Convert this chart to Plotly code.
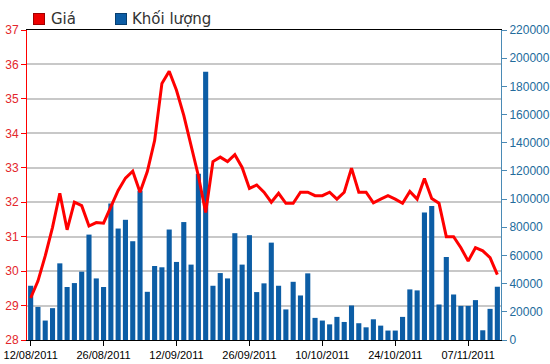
import plotly.graph_objects as go

dates = [
    "12/08/2011", "15/08/2011", "16/08/2011", "17/08/2011", "18/08/2011", "19/08/2011",
    "22/08/2011", "23/08/2011", "24/08/2011", "25/08/2011", "26/08/2011",
    "29/08/2011", "30/08/2011", "31/08/2011", "01/09/2011",
    "05/09/2011", "06/09/2011", "07/09/2011", "08/09/2011", "09/09/2011", "12/09/2011",
    "13/09/2011", "14/09/2011", "15/09/2011", "16/09/2011",
    "19/09/2011", "20/09/2011", "21/09/2011", "22/09/2011", "23/09/2011", "26/09/2011",
    "27/09/2011", "28/09/2011", "29/09/2011", "30/09/2011",
    "03/10/2011", "04/10/2011", "05/10/2011", "06/10/2011", "07/10/2011", "10/10/2011",
    "11/10/2011", "12/10/2011", "13/10/2011", "14/10/2011",
    "17/10/2011", "18/10/2011", "19/10/2011", "20/10/2011", "21/10/2011", "24/10/2011",
    "25/10/2011", "26/10/2011", "27/10/2011", "28/10/2011", "31/10/2011",
    "01/11/2011", "02/11/2011", "03/11/2011", "04/11/2011", "07/11/2011",
    "08/11/2011", "09/11/2011", "10/11/2011", "11/11/2011",
]

price = [
    29.22, 29.71, 30.44, 31.27, 32.26, 31.2, 32.0, 31.9, 31.31, 31.41,
    31.39, 31.85, 32.34, 32.7, 32.9, 32.29, 32.89, 33.79, 35.45, 35.8,
    35.25, 34.52, 33.65, 32.77, 31.7, 33.18, 33.31, 33.18, 33.38, 33.01,
    32.4, 32.5, 32.29, 32.0, 32.26, 31.97, 31.97, 32.29, 32.29, 32.19,
    32.19, 32.29, 32.09, 32.29, 32.99, 32.29, 32.29, 31.98, 32.09, 32.19,
    32.09, 31.97, 32.31, 32.09, 32.69, 32.11, 31.97, 31.0, 31.0, 30.68,
    30.29, 30.68, 30.59, 30.39, 29.9,
]

volume = [
    38500, 23500, 13800, 22600, 54400, 37600, 40400, 48500, 74800, 43700,
    37600, 96900, 79100, 85300, 70100, 106000, 34200, 52500, 51600, 78400,
    55400, 83700, 53500, 117900, 190300, 38500, 47500, 43700, 75800, 53500,
    74400, 34000, 40200, 69100, 38500, 21700, 41300, 31600, 47300, 15700,
    13800, 11100, 16400, 12800, 24500, 11900, 9000, 14700, 10200, 6700,
    6700, 16400, 35900, 35200, 90500, 95100, 25200, 58900, 32300, 24200,
    24200, 28300, 6900, 22100, 37800,
]

tick_dates = ["12/08/2011", "26/08/2011", "12/09/2011", "26/09/2011",
              "10/10/2011", "24/10/2011", "07/11/2011"]

price_ticks = [28, 29, 30, 31, 32, 33, 34, 35, 36, 37]
volume_ticks = [0, 20000, 40000, 60000, 80000, 100000, 120000, 140000,
                160000, 180000, 200000, 220000]

legend_names = ["Giá", "Khối lượng"]
legend_colors = ["#ee0000", "#0c5da5"]
legend_borders = ["#a00000", "#083f70"]

RED = "#ff0000"
RED_TXT = "#e3262b"
BLUE = "#0c5da5"
BLUE_TXT = "#236b9c"
BLUE_AXIS = "#4a8ab5"

fig = go.Figure()

fig.add_trace(go.Bar(
    x=dates, y=volume, yaxis="y", name=legend_names[1],
    marker=dict(color=BLUE, line=dict(width=0)),
    showlegend=False,
))

fig.add_trace(go.Scatter(
    x=dates, y=price, yaxis="y2", mode="lines", name=legend_names[0],
    line=dict(color=RED, width=3), showlegend=False,
))

# legend drawn above the plot: swatch + label for each series
swatch_x = [0.0253, 0.1983]
label_x = [0.0465, 0.2175]
legend_y = 1.034
annotations = []
for name, col, bcol, sx, lx in zip(legend_names, legend_colors, legend_borders, swatch_x, label_x):
    annotations.append(dict(
        xref="paper", yref="paper", x=sx, y=legend_y, xanchor="center", yanchor="middle",
        text=" ", showarrow=False, width=10, height=10, bgcolor=col,
        bordercolor=bcol, borderwidth=1, borderpad=0, font=dict(size=6),
    ))
    annotations.append(dict(
        xref="paper", yref="paper", x=lx, y=legend_y, xanchor="left", yanchor="middle",
        text=name, showarrow=False,
        font=dict(family="DejaVu Sans, Verdana, sans-serif", size=15, color="#333333"),
    ))

fig.update_layout(
    width=550, height=364,
    margin=dict(l=27, r=49, t=30, b=24, autoexpand=False),
    paper_bgcolor="white", plot_bgcolor="white",
    barmode="overlay", bargap=0.3, showlegend=False,
    font=dict(family="Liberation Sans, Arial, sans-serif", size=12),
    annotations=annotations,
    xaxis=dict(
        type="category", categoryorder="array", categoryarray=dates,
        range=[-0.5, len(dates) - 0.5], automargin=False,
        tickmode="array", tickvals=tick_dates, ticktext=tick_dates,
        ticks="outside", ticklen=5, tickcolor="#000000", tickwidth=1,
        showline=True, linecolor="#000000", linewidth=1, mirror=True,
        showgrid=False, tickfont=dict(size=11, color="#000000"),
    ),
    yaxis=dict(
        side="right", range=[0, 220000], tickmode="array", tickvals=volume_ticks,
        tickformat="d", automargin=False,
        showgrid=False, zeroline=False,
        showline=True, linecolor=BLUE_AXIS, linewidth=1,
        ticks="outside", ticklen=5, tickcolor=BLUE_AXIS,
        tickfont=dict(size=12, color=BLUE_TXT),
    ),
    yaxis2=dict(
        side="left", overlaying="y", range=[28, 37], tickmode="array",
        tickvals=price_ticks, automargin=False,
        showgrid=True, gridcolor="#c8c8c8", gridwidth=1.5, zeroline=False,
        showline=True, linecolor=RED, linewidth=1,
        ticks="outside", ticklen=5, tickcolor=RED,
        tickfont=dict(size=12, color=RED_TXT),
    ),
)

fig.write_html("out.html", config={"displayModeBar": False},
               post_script="document.body.style.margin='0px';")
